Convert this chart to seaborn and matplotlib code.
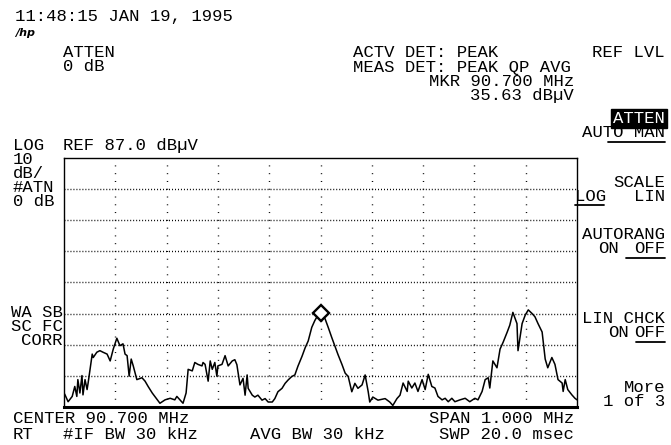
import numpy as np
import pandas as pd
import matplotlib
matplotlib.use("Agg")
import matplotlib.pyplot as plt
import seaborn as sns
from matplotlib.lines import Line2D

# ---- trace data ----
freq_mhz = [90.200, 90.202, 90.208, 90.216, 90.221, 90.225, 90.227, 90.231, 90.235, 90.237,
            90.241, 90.245, 90.247, 90.255, 90.257, 90.264, 90.270, 90.276, 90.284, 90.290,
            90.296, 90.303, 90.309, 90.315, 90.319, 90.323, 90.327, 90.331, 90.335, 90.342,
            90.352, 90.358, 90.364, 90.372, 90.377, 90.387, 90.397, 90.407, 90.416, 90.420,
            90.426, 90.432, 90.438, 90.442, 90.450, 90.455, 90.461, 90.469, 90.471, 90.475,
            90.481, 90.485, 90.489, 90.494, 90.498, 90.500, 90.508, 90.514, 90.520, 90.528,
            90.533, 90.537, 90.543, 90.549, 90.553, 90.557, 90.559, 90.567, 90.572, 90.578,
            90.586, 90.592, 90.598, 90.606, 90.611, 90.617, 90.625, 90.631, 90.637, 90.644,
            90.650, 90.656, 90.664, 90.670, 90.676, 90.683, 90.689, 90.695, 90.700, 90.709,
            90.715, 90.722, 90.728, 90.734, 90.742, 90.748, 90.754, 90.761, 90.767, 90.773,
            90.781, 90.787, 90.793, 90.796, 90.802, 90.812, 90.826, 90.835, 90.841, 90.849,
            90.855, 90.861, 90.869, 90.871, 90.878, 90.884, 90.890, 90.898, 90.904, 90.910,
            90.917, 90.923, 90.929, 90.937, 90.943, 90.949, 90.956, 90.962, 90.972, 90.982,
            90.991, 91.001, 91.007, 91.015, 91.021, 91.027, 91.030, 91.036, 91.044, 91.050,
            91.056, 91.064, 91.069, 91.075, 91.083, 91.085, 91.093, 91.099, 91.105, 91.112,
            91.118, 91.124, 91.132, 91.138, 91.143, 91.151, 91.157, 91.163, 91.171, 91.173,
            91.177, 91.182, 91.190, 91.196, 91.200]
level_dbuv = [11.5, 10.9, 8.7, 10.4, 13.6, 10.4, 15.8, 11.5, 17.1, 10.9,
              15.8, 12.6, 14.7, 24.0, 22.9, 24.6, 25.1, 24.6, 24.0, 21.8,
              25.6, 29.1, 26.7, 27.3, 24.0, 23.5, 16.9, 22.4, 20.2, 15.8,
              16.4, 15.3, 13.6, 11.5, 10.4, 8.2, 9.3, 9.8, 9.3, 10.4,
              9.3, 8.2, 11.5, 19.1, 18.6, 21.3, 20.7, 20.2, 21.3, 20.7,
              15.3, 21.8, 19.1, 21.3, 16.9, 20.2, 20.7, 23.5, 20.2, 21.8,
              22.2, 20.6, 14.1, 16.2, 10.8, 17.3, 13.0, 10.8, 10.2, 10.8,
              9.2, 9.7, 8.6, 8.6, 9.7, 11.9, 13.0, 14.6, 15.7, 16.8,
              17.3, 20.1, 23.3, 26.0, 28.2, 32.6, 34.8, 36.5, 37.2, 35.3,
              32.6, 29.3, 26.6, 23.9, 20.6, 17.9, 16.8, 11.9, 14.6, 13.0,
              14.1, 17.3, 11.9, 8.6, 10.2, 9.2, 9.7, 8.6, 7.5, 9.7,
              10.8, 14.7, 12.0, 15.3, 13.1, 14.7, 12.0, 15.8, 12.6, 17.5,
              13.6, 13.1, 10.4, 9.3, 9.8, 8.7, 9.8, 8.7, 9.3, 9.8,
              8.7, 9.8, 9.3, 12.0, 15.8, 16.4, 13.1, 21.8, 19.6, 25.6,
              27.8, 31.1, 33.3, 37.4, 33.8, 25.1, 33.8, 36.5, 38.2, 37.1,
              36.0, 33.8, 31.1, 22.4, 19.6, 22.9, 20.7, 15.8, 14.7, 12.0,
              15.8, 12.6, 10.9, 9.8, 9.3]

marker_freq = 90.700
marker_level = 37.2

ref_level = 87.0
db_per_div = 10
n_ydiv = 8
n_xdiv = 10
center_mhz = 90.700
span_mhz = 1.000

# ---- figure ----
sns.set_style("white")
plt.rcParams['font.family'] = ['Liberation Mono', 'DejaVu Sans Mono', 'DejaVu Sans']

W, H = 671, 445
FS = 12.4
fig = plt.figure(figsize=(W / 100, H / 100), dpi=100)
fig.patch.set_facecolor('white')

L, R, T_, B = 64, 577, 158, 407
ax = fig.add_axes([L / W, 1 - B / H, (R - L) / W, (B - T_) / H])

df = pd.DataFrame({'freq': freq_mhz, 'level': level_dbuv})
sns.lineplot(data=df, x='freq', y='level', ax=ax, color='black', linewidth=1.1,
             estimator=None, sort=False)
ax.plot([marker_freq], [marker_level], marker='D', ms=8, mfc='white',
        mec='black', mew=1.7, zorder=5)

x0 = center_mhz - span_mhz / 2
x1 = center_mhz + span_mhz / 2
y0 = ref_level - n_ydiv * db_per_div
ax.set_xlim(x0, x1)
ax.set_ylim(y0, ref_level)

xgrid = np.linspace(x0, x1, n_xdiv + 1)[1:-1]
ygrid = np.linspace(y0, ref_level, n_ydiv + 1)[1:-1]
for yv in ygrid:
    ax.axhline(yv, color='black', lw=1.0, ls=(0, (0.7, 1.45)), zorder=1)
for xv in xgrid:
    ax.axvline(xv, color='black', lw=1.0, ls=(0, (0.7, 4.9)), zorder=1)

ax.set_xticks([])
ax.set_yticks([])
ax.set_xlabel('')
ax.set_ylabel('')
for s in ax.spines.values():
    s.set_visible(True)
    s.set_color('black')
    s.set_linewidth(1.0)
ax.spines['bottom'].set_linewidth(2.2)


def txt(x, y, s, ha='left', **kw):
    kw.setdefault('fontsize', FS)
    kw.setdefault('color', 'black')
    return fig.text(x / W, 1 - y / H, s, ha=ha, va='baseline', **kw)


def uline(xa, xb, y):
    fig.add_artist(Line2D([xa / W, xb / W], [1 - y / H, 1 - y / H],
                          transform=fig.transFigure, color='black', lw=1.3))


# header
txt(15, 21, "11:48:15 JAN 19, 1995")
txt(15, 36, "/hp", fontsize=8, style='italic', weight='bold', family='DejaVu Sans')
txt(63, 57, "ATTEN")
txt(63, 71, "0 dB")
txt(353, 57, "ACTV DET: PEAK")
txt(353, 72, "MEAS DET: PEAK QP AVG")
txt(574, 86, "MKR 90.700 MHz", ha='right')
txt(574, 100, "35.63 dBµV", ha='right')

# left annotation column
txt(13, 150, "LOG")
txt(63, 150, "REF 87.0 dBµV")
txt(13, 164, "10")
txt(13, 178, "dB/")
txt(13, 192, "#ATN")
txt(13, 206, "0 dB")
txt(63, 317, "WA SB", ha='right')
txt(63, 331, "SC FC", ha='right')
txt(63, 345, "CORR", ha='right')

# bottom
txt(13, 423, "CENTER 90.700 MHz")
txt(574, 423, "SPAN 1.000 MHz", ha='right')
txt(13, 439, "RT")
txt(63, 439, "#IF BW 30 kHz")
txt(250, 439, "AVG BW 30 kHz")
txt(574, 439, "SWP 20.0 msec", ha='right')

# softkeys
SK = 665
txt(SK, 57, "REF LVL", ha='right')
txt(SK, 123, "ATTEN", ha='right', color='white',
    bbox=dict(boxstyle='square,pad=0.12', fc='black', ec='black'))
txt(SK, 137, "AUTO MAN", ha='right')
uline(608, 665, 141.5)
txt(SK, 187, "SCALE", ha='right')
txt(575, 201, "LOG")
txt(SK, 201, "LIN", ha='right')
uline(575, 604, 205.5)
txt(SK, 239, "AUTORANG", ha='right')
txt(598, 253, "ON")
txt(SK, 253, "OFF", ha='right')
uline(626, 665, 257.5)
txt(SK, 323, "LIN CHCK", ha='right')
txt(608, 337, "ON")
txt(SK, 337, "OFF", ha='right')
uline(636, 665, 341.5)
txt(SK, 392, "More", ha='right')
txt(SK, 406, "1 of 3", ha='right')

fig.savefig("out.png", dpi=100, facecolor='white')
